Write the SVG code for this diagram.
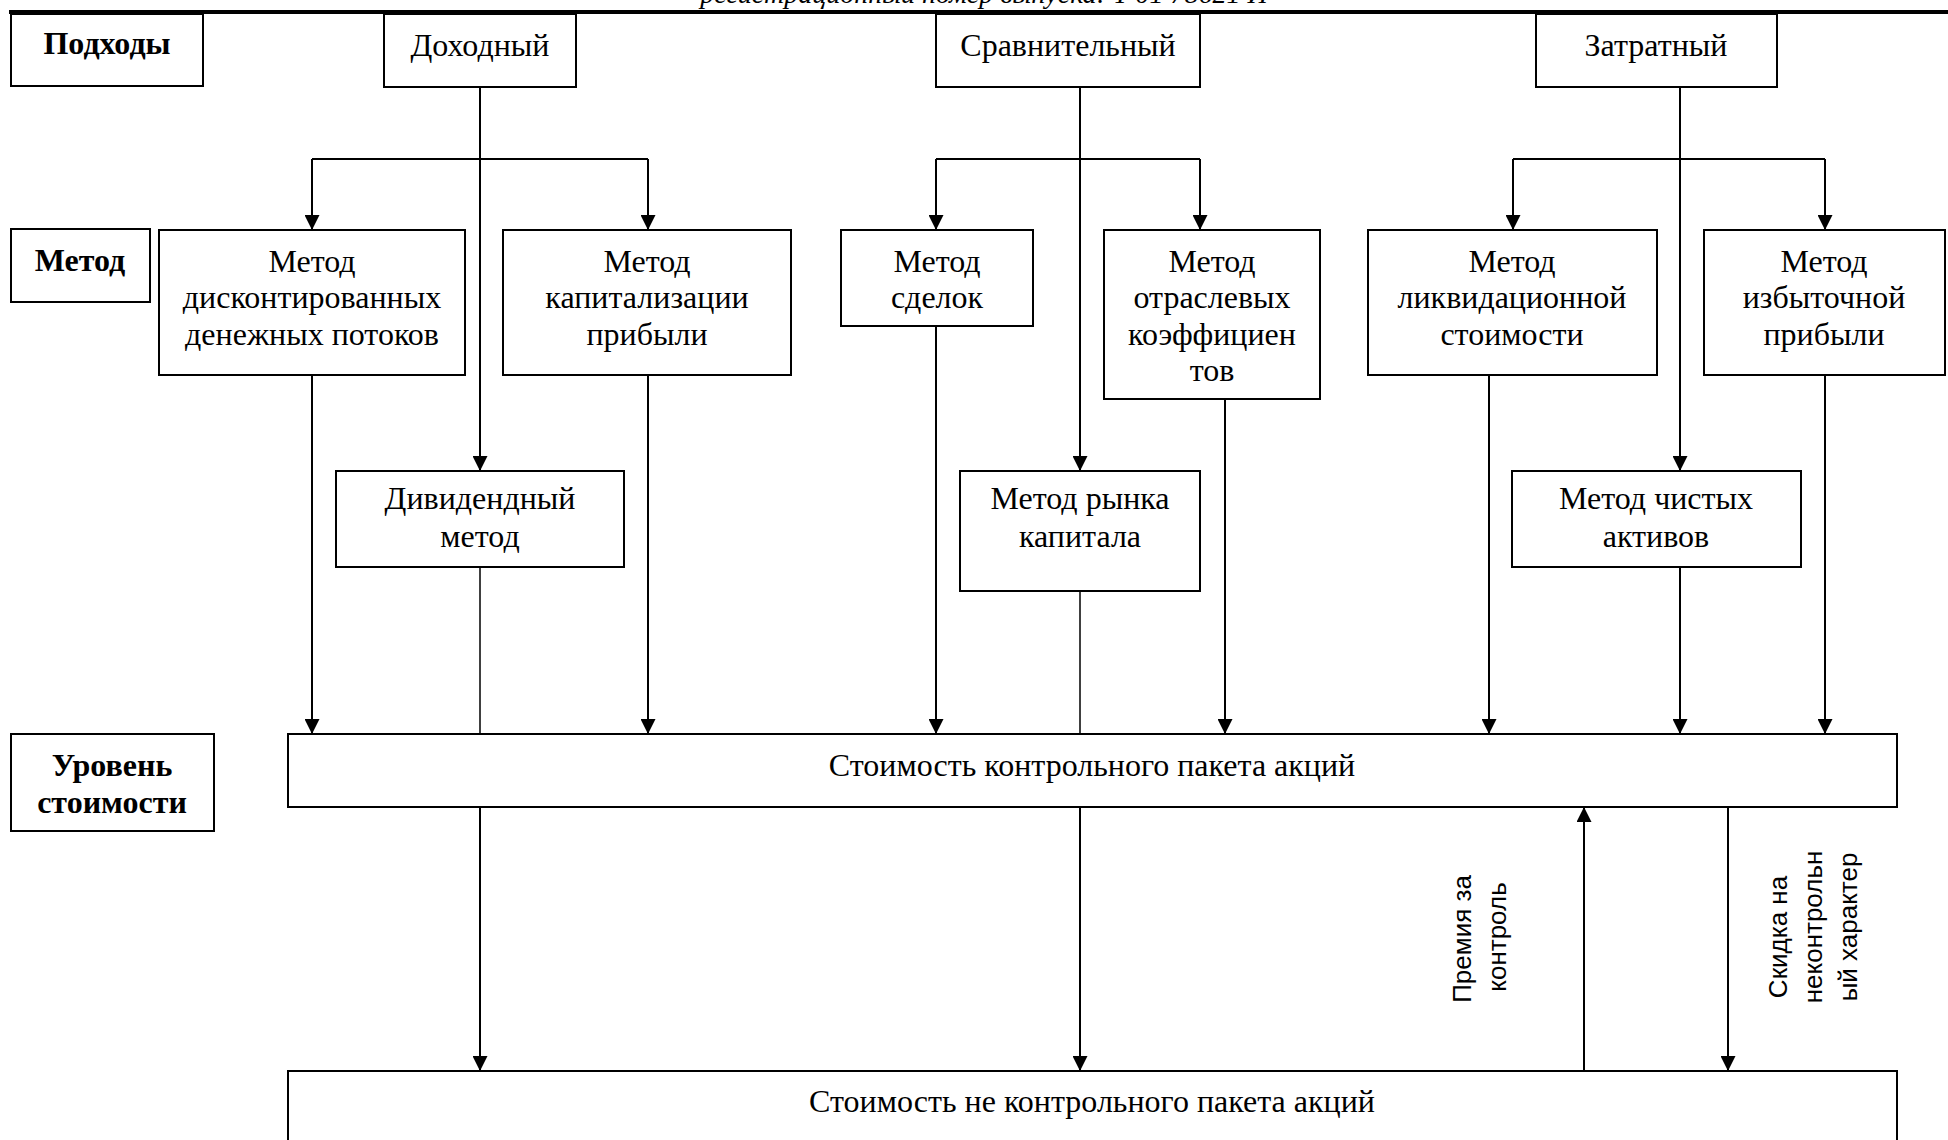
<svg xmlns="http://www.w3.org/2000/svg" width="1948" height="1140" viewBox="0 0 1948 1140">
<defs>
<marker id="arr" viewBox="0 0 15 15" refX="15" refY="7.5" markerWidth="15" markerHeight="15" orient="auto" markerUnits="userSpaceOnUse">
<path d="M0,0 L15,7.5 L0,15 z" fill="#000"/>
</marker>
<style>
.box{fill:#fff;stroke:#000;stroke-width:2}
.t{font-family:"Liberation Serif","Times New Roman",serif;font-size:32px;fill:#000;text-anchor:middle}
.b{font-weight:bold}
.c{fill:none;stroke:#000;stroke-width:2}
.thin{fill:none;stroke:#000;stroke-width:1.5}
.a{marker-end:url(#arr)}
.r{font-family:"Liberation Sans",Arial,sans-serif;font-size:26px;fill:#000;text-anchor:middle}
.hdr{font-family:"Liberation Serif","Times New Roman",serif;font-size:28px;font-style:italic;fill:#000;text-anchor:middle}
</style>
</defs>
<rect width="1948" height="1140" fill="#fff"/>
<text class="hdr" x="984" y="3">регистрационный номер выпуска: Т 01 78621 И</text>
<line x1="9" y1="12" x2="1948" y2="12" stroke="#000" stroke-width="4"/>

<g id="connectors">
<path class="c a" d="M480,87 V471"/>
<path class="c" d="M312,159 H648"/>
<path class="c a" d="M312,159 V230"/>
<path class="c a" d="M648,159 V230"/>
<path class="c a" d="M1080,87 V471"/>
<path class="c" d="M936,159 H1200"/>
<path class="c a" d="M936,159 V230"/>
<path class="c a" d="M1200,159 V230"/>
<path class="c a" d="M1680,87 V471"/>
<path class="c" d="M1513,159 H1825"/>
<path class="c a" d="M1513,159 V230"/>
<path class="c a" d="M1825,159 V230"/>
<path class="c a" d="M312,375 V734"/>
<path class="thin" d="M480,567 V734"/>
<path class="c a" d="M648,375 V734"/>
<path class="c a" d="M936,326 V734"/>
<path class="thin" d="M1080,591 V734"/>
<path class="c a" d="M1225,399 V734"/>
<path class="c a" d="M1489,375 V734"/>
<path class="c a" d="M1680,567 V734"/>
<path class="c a" d="M1825,375 V734"/>
<path class="c a" d="M480,807 V1071"/>
<path class="c a" d="M1080,807 V1071"/>
<path class="c a" d="M1584,1071 V807"/>
<path class="c a" d="M1728,807 V1071"/>
<text class="r" transform="translate(1471,939) rotate(-90)">Премия за</text>
<text class="r" transform="translate(1506,937) rotate(-90)">контроль</text>
<text class="r" transform="translate(1787,937) rotate(-90)">Скидка на</text>
<text class="r" transform="translate(1822,927) rotate(-90)">неконтрольн</text>
<text class="r" transform="translate(1857,927) rotate(-90)">ый характер</text>
</g>

<g id="lbl-podkhody"><rect class="box" x="11" y="14" width="192" height="72"/><text class="t b" x="107" y="54">Подходы</text></g>
<g id="dokhodny"><rect class="box" x="384" y="14" width="192" height="73"/><text class="t" x="480" y="56">Доходный</text></g>
<g id="sravnitelny"><rect class="box" x="936" y="14" width="264" height="73"/><text class="t" x="1068" y="56">Сравнительный</text></g>
<g id="zatratny"><rect class="box" x="1536" y="14" width="241" height="73"/><text class="t" x="1656" y="56">Затратный</text></g>

<g id="lbl-metod"><rect class="box" x="11" y="229" width="139" height="73"/><text class="t b" x="80" y="271">Метод</text></g>
<g id="m-dcf"><rect class="box" x="159" y="230" width="306" height="145"/><text class="t" x="312" y="272">Метод</text><text class="t" x="312" y="308">дисконтированных</text><text class="t" x="312" y="345">денежных потоков</text></g>
<g id="m-kap"><rect class="box" x="503" y="230" width="288" height="145"/><text class="t" x="647" y="272">Метод</text><text class="t" x="647" y="308">капитализации</text><text class="t" x="647" y="345">прибыли</text></g>
<g id="m-sdelok"><rect class="box" x="841" y="230" width="192" height="96"/><text class="t" x="937" y="272">Метод</text><text class="t" x="937" y="308">сделок</text></g>
<g id="m-otrasl"><rect class="box" x="1104" y="230" width="216" height="169"/><text class="t" x="1212" y="272">Метод</text><text class="t" x="1212" y="308">отраслевых</text><text class="t" x="1212" y="345">коэффициен</text><text class="t" x="1212" y="381">тов</text></g>
<g id="m-likv"><rect class="box" x="1368" y="230" width="289" height="145"/><text class="t" x="1512" y="272">Метод</text><text class="t" x="1512" y="308">ликвидационной</text><text class="t" x="1512" y="345">стоимости</text></g>
<g id="m-izb"><rect class="box" x="1704" y="230" width="241" height="145"/><text class="t" x="1824" y="272">Метод</text><text class="t" x="1824" y="308">избыточной</text><text class="t" x="1824" y="345">прибыли</text></g>

<g id="m-divid"><rect class="box" x="336" y="471" width="288" height="96"/><text class="t" x="480" y="509">Дивидендный</text><text class="t" x="480" y="547">метод</text></g>
<g id="m-rynok"><rect class="box" x="960" y="471" width="240" height="120"/><text class="t" x="1080" y="509">Метод рынка</text><text class="t" x="1080" y="547">капитала</text></g>
<g id="m-chist"><rect class="box" x="1512" y="471" width="289" height="96"/><text class="t" x="1656" y="509">Метод чистых</text><text class="t" x="1656" y="547">активов</text></g>

<g id="lbl-uroven"><rect class="box" x="11" y="734" width="203" height="97"/><text class="t b" x="112" y="776">Уровень</text><text class="t b" x="112" y="813">стоимости</text></g>
<g id="kontrol"><rect class="box" x="288" y="734" width="1609" height="73"/><text class="t" x="1092" y="776">Стоимость контрольного пакета акций</text></g>
<g id="nekontrol"><rect class="box" x="288" y="1071" width="1609" height="100"/><text class="t" x="1092" y="1112">Стоимость не контрольного пакета акций</text></g>
</svg>
